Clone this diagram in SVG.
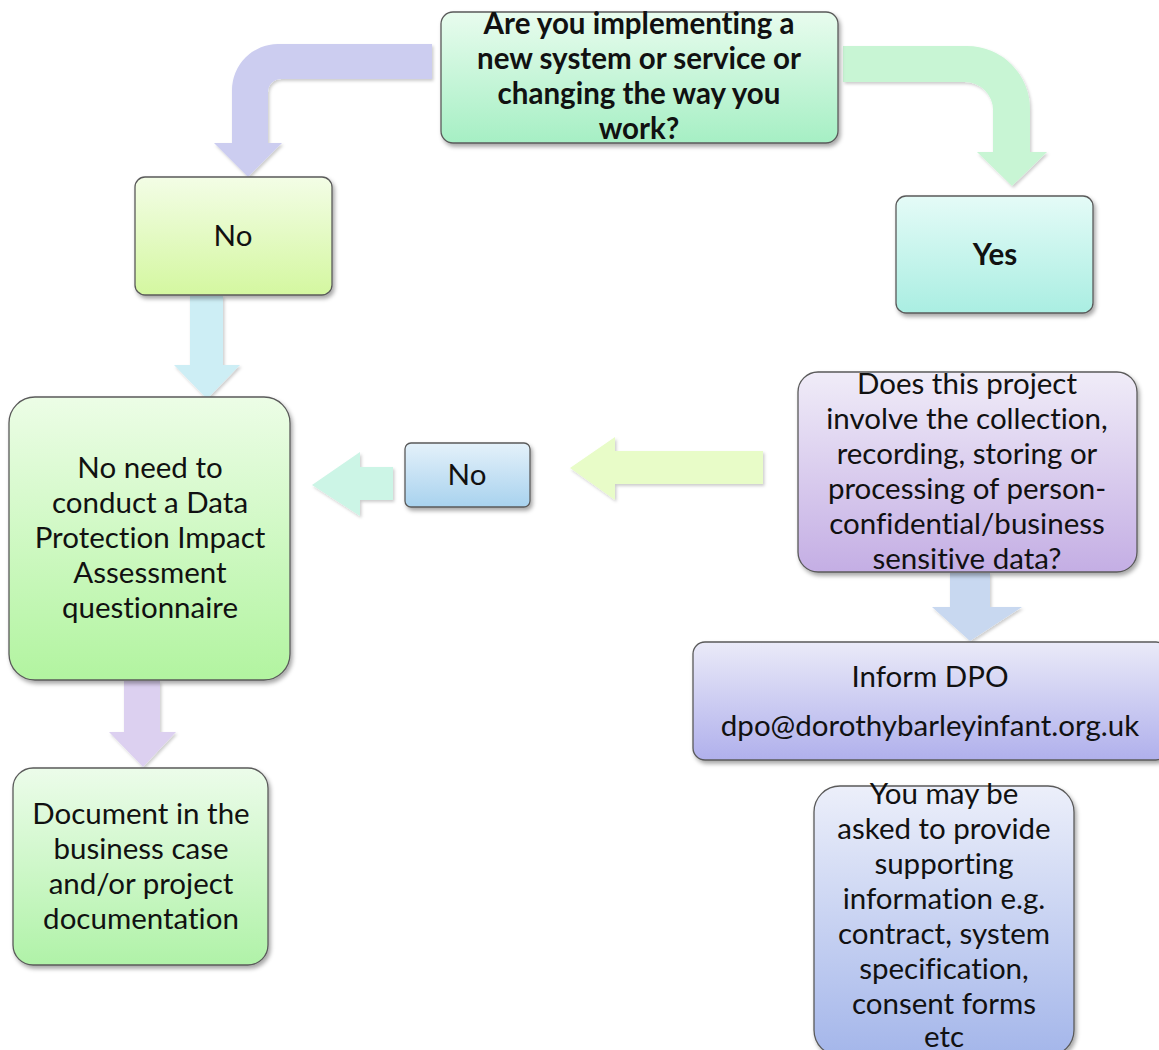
<svg xmlns="http://www.w3.org/2000/svg" width="1159" height="1050" viewBox="0 0 1159 1050">
<defs>
<filter id="sh" x="-10%" y="-10%" width="125%" height="130%"><feDropShadow dx="2" dy="3" stdDeviation="2" flood-color="#000" flood-opacity="0.35"/></filter>
<filter id="sha" x="-10%" y="-10%" width="125%" height="130%"><feDropShadow dx="1.5" dy="2" stdDeviation="1.5" flood-color="#000" flood-opacity="0.2"/></filter>
<linearGradient id="gTop" x1="0" y1="0" x2="0" y2="1"><stop offset="0" stop-color="#e8fcee"/><stop offset="1" stop-color="#a6efc4"/></linearGradient>
<linearGradient id="gNo1" x1="0" y1="0" x2="0" y2="1"><stop offset="0" stop-color="#f3fde6"/><stop offset="1" stop-color="#d4f7a0"/></linearGradient>
<linearGradient id="gYes" x1="0" y1="0" x2="0" y2="1"><stop offset="0" stop-color="#e4fbf7"/><stop offset="1" stop-color="#aaeee2"/></linearGradient>
<linearGradient id="gBig" x1="0" y1="0" x2="0" y2="1"><stop offset="0" stop-color="#ecfde6"/><stop offset="1" stop-color="#b2f4a0"/></linearGradient>
<linearGradient id="gNo2" x1="0" y1="0" x2="0" y2="1"><stop offset="0" stop-color="#e4f1fa"/><stop offset="1" stop-color="#a8d2ee"/></linearGradient>
<linearGradient id="gPur" x1="0" y1="0" x2="0" y2="1"><stop offset="0" stop-color="#f0ecf8"/><stop offset="1" stop-color="#c4aee4"/></linearGradient>
<linearGradient id="gInf" x1="0" y1="0" x2="0" y2="1"><stop offset="0" stop-color="#eaeaf8"/><stop offset="1" stop-color="#b0b0ec"/></linearGradient>
<linearGradient id="gDoc" x1="0" y1="0" x2="0" y2="1"><stop offset="0" stop-color="#ecfcea"/><stop offset="1" stop-color="#b0f2a8"/></linearGradient>
<linearGradient id="gYou" x1="0" y1="0" x2="0" y2="1"><stop offset="0" stop-color="#eceffa"/><stop offset="1" stop-color="#a4b6ea"/></linearGradient>
</defs>
<style>
.box{stroke:#5a5a5a;stroke-width:1.3;filter:url(#sh)}
.t{font-family:Lato,"Liberation Sans",sans-serif;font-size:29.5px;fill:#111;text-anchor:middle;font-variant-ligatures:none}
.b{font-weight:bold}
.arr{filter:url(#sha)}
</style>
<g id="connectors">
<path class="arr" fill="#cccdf0" d="M432,44 L278,44 A46,46 0 0 0 232,90 L232,143 L214,143 L248,177 L282,143 L268,143 L268,92 A13,13 0 0 1 281,79 L432,79 Z"/>
<path class="arr" fill="#c8f5d4" d="M843,46 L967,46 A63,63 0 0 1 1030,109 L1030,152 L1047,152 L1012,186 L977,152 L993,152 L993,110 A28,28 0 0 0 965,82 L843,82 Z"/>
<path class="arr" fill="#cdeef5" d="M190,296 L223,296 L223,365 L240,365 L207,399 L174,365 L190,365 Z"/>
<path class="arr" fill="#e8fcc8" d="M763,451 L615,451 L615,437 L570,468 L615,500 L615,484 L763,484 Z"/>
<path class="arr" fill="#ccf5e6" d="M393,467 L360,467 L360,452 L312,485 L360,516 L360,500 L393,500 Z"/>
<path class="arr" fill="#c8d8f0" d="M950,573 L990,573 L990,607 L1022,607 L970,641 L932,607 L950,607 Z"/>
<path class="arr" fill="#dcd0f0" d="M124,681 L160,681 L160,732 L176,732 L143,767 L109,732 L124,732 Z"/>
</g>
<g id="n-top">
<rect class="box" x="441" y="12" width="397" height="131" rx="12" fill="url(#gTop)"/>
<text class="t b" x="639" y="34">Are you implementing a</text>
<text class="t b" x="639" y="69">new system or service or</text>
<text class="t b" x="639" y="104">changing the way you</text>
<text class="t b" x="639" y="139">work?</text>
</g>
<g id="n-no1">
<rect class="box" x="135" y="177" width="197" height="118" rx="10" fill="url(#gNo1)"/>
<text class="t" x="233" y="246">No</text>
</g>
<g id="n-yes">
<rect class="box" x="896" y="196" width="197" height="117" rx="10" fill="url(#gYes)"/>
<text class="t b" x="995" y="265">Yes</text>
</g>
<g id="n-noneed">
<rect class="box" x="9" y="397" width="281" height="283" rx="26" fill="url(#gBig)"/>
<text class="t" x="150" y="478">No need to</text>
<text class="t" x="150" y="513">conduct a Data</text>
<text class="t" x="150" y="548">Protection Impact</text>
<text class="t" x="150" y="583">Assessment</text>
<text class="t" x="150" y="618">questionnaire</text>
</g>
<g id="n-no2">
<rect class="box" x="405" y="443" width="125" height="64" rx="6" fill="url(#gNo2)"/>
<text class="t" x="467" y="485">No</text>
</g>
<g id="n-q2">
<rect class="box" x="798" y="372" width="339" height="200" rx="20" fill="url(#gPur)"/>
<text class="t" x="967" y="394">Does this project</text>
<text class="t" x="967" y="429">involve the collection,</text>
<text class="t" x="967" y="464">recording, storing or</text>
<text class="t" x="967" y="499">processing of person-</text>
<text class="t" x="967" y="534">confidential/business</text>
<text class="t" x="967" y="569">sensitive data?</text>
</g>
<g id="n-inform">
<rect class="box" x="693" y="642" width="475" height="118" rx="12" fill="url(#gInf)"/>
<text class="t" x="930" y="687">Inform DPO</text>
<text class="t" x="930" y="736">dpo@dorothybarleyinfant.org.uk</text>
</g>
<g id="n-doc">
<rect class="box" x="13" y="768" width="255" height="197" rx="20" fill="url(#gDoc)"/>
<text class="t" x="141" y="824">Document in the</text>
<text class="t" x="141" y="859">business case</text>
<text class="t" x="141" y="894">and/or project</text>
<text class="t" x="141" y="929">documentation</text>
</g>
<g id="n-you">
<rect class="box" x="814" y="786" width="260" height="270" rx="26" fill="url(#gYou)"/>
<text class="t" x="944" y="804">You may be</text>
<text class="t" x="944" y="839">asked to provide</text>
<text class="t" x="944" y="874">supporting</text>
<text class="t" x="944" y="909">information e.g.</text>
<text class="t" x="944" y="944">contract, system</text>
<text class="t" x="944" y="979">specification,</text>
<text class="t" x="944" y="1014">consent forms</text>
<text class="t" x="944" y="1047">etc</text>
</g>
</svg>
